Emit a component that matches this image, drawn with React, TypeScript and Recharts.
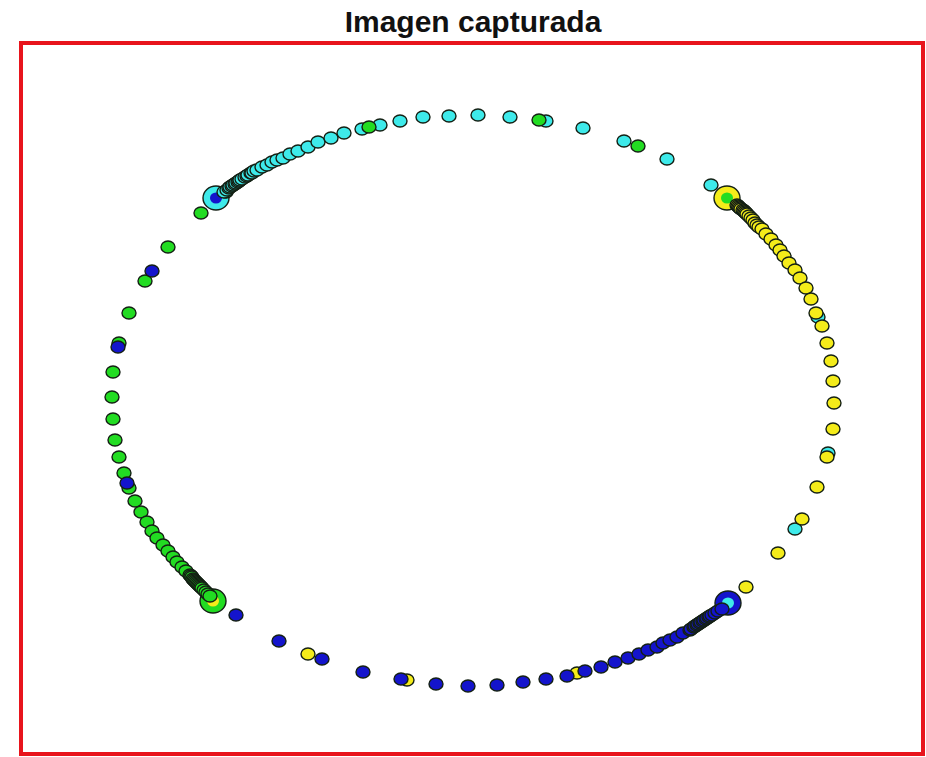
import React from "react";
import { ScatterChart, Scatter, XAxis, YAxis, ReferenceArea } from "recharts";

// values read in picture units (x right, y down)
const cyanPoints = [
  { x: 226, y: 192 }, { x: 224, y: 192 }, { x: 227, y: 190 }, { x: 229, y: 188 }, { x: 230, y: 187 },
  { x: 232, y: 186 }, { x: 233, y: 185 }, { x: 235, y: 184 }, { x: 236, y: 183 }, { x: 238, y: 182 },
  { x: 239, y: 181 }, { x: 240, y: 180 }, { x: 242, y: 179 }, { x: 245, y: 177 },
  { x: 247, y: 176 }, { x: 248, y: 175 }, { x: 251, y: 173 }, { x: 252, y: 173 }, { x: 254, y: 171 },
  { x: 257, y: 170 }, { x: 262, y: 167 }, { x: 267, y: 165 }, { x: 272, y: 162 }, { x: 277, y: 160 },
  { x: 283, y: 158 }, { x: 290, y: 154 }, { x: 298, y: 151 }, { x: 308, y: 147 }, { x: 318, y: 142 },
  { x: 331, y: 138 }, { x: 344, y: 133 }, { x: 362, y: 129 }, { x: 380, y: 125 }, { x: 400, y: 121 },
  { x: 423, y: 117 }, { x: 449, y: 116 }, { x: 478, y: 115 }, { x: 510, y: 117 }, { x: 546, y: 121 },
  { x: 583, y: 128 }, { x: 624, y: 141 }, { x: 667, y: 159 }, { x: 711, y: 185 }, { x: 818, y: 317 },
  { x: 828, y: 453 }, { x: 795, y: 529 },
];

const yellowPoints = [
  { x: 737, y: 205 }, { x: 738, y: 206 }, { x: 739, y: 207 }, { x: 740, y: 208 }, { x: 741, y: 209 },
  { x: 743, y: 210 }, { x: 744, y: 211 }, { x: 745, y: 212 }, { x: 746, y: 213 }, { x: 747, y: 214 },
  { x: 749, y: 216 }, { x: 751, y: 218 }, { x: 753, y: 220 }, { x: 755, y: 223 },
  { x: 757, y: 225 }, { x: 759, y: 227 }, { x: 762, y: 229 }, { x: 766, y: 234 }, { x: 771, y: 239 },
  { x: 776, y: 245 }, { x: 780, y: 250 }, { x: 784, y: 256 }, { x: 789, y: 263 }, { x: 795, y: 270 },
  { x: 800, y: 278 }, { x: 806, y: 288 }, { x: 811, y: 299 }, { x: 816, y: 313 }, { x: 822, y: 326 },
  { x: 827, y: 343 }, { x: 831, y: 361 }, { x: 833, y: 381 }, { x: 834, y: 403 }, { x: 833, y: 429 },
  { x: 827, y: 457 }, { x: 817, y: 487 }, { x: 802, y: 519 }, { x: 778, y: 553 }, { x: 746, y: 587 },
  { x: 308, y: 654 }, { x: 407, y: 680 }, { x: 577, y: 673 },
];

const greenPoints = [
  { x: 201, y: 213 }, { x: 369, y: 127 }, { x: 539, y: 120 }, { x: 638, y: 146 },
  { x: 168, y: 247 }, { x: 145, y: 281 }, { x: 129, y: 313 }, { x: 119, y: 343 }, { x: 113, y: 372 },
  { x: 112, y: 397 }, { x: 113, y: 419 }, { x: 115, y: 440 }, { x: 119, y: 457 }, { x: 124, y: 473 },
  { x: 129, y: 488 }, { x: 135, y: 501 }, { x: 141, y: 512 }, { x: 147, y: 522 }, { x: 152, y: 531 },
  { x: 157, y: 538 }, { x: 163, y: 545 }, { x: 168, y: 551 }, { x: 173, y: 557 }, { x: 177, y: 562 },
  { x: 182, y: 567 }, { x: 186, y: 571 }, { x: 190, y: 575 }, { x: 191, y: 576 }, { x: 192, y: 577 },
  { x: 193, y: 579 }, { x: 194, y: 580 }, { x: 195, y: 581 }, { x: 196, y: 582 }, { x: 197, y: 583 },
  { x: 198, y: 584 }, { x: 199, y: 585 }, { x: 200, y: 586 }, { x: 201, y: 587 }, { x: 202, y: 588 },
  { x: 204, y: 590 }, { x: 206, y: 592 }, { x: 208, y: 594 }, { x: 210, y: 596 },
];

const bluePoints = [
  { x: 152, y: 271 }, { x: 118, y: 347 }, { x: 127, y: 483 },
  { x: 236, y: 615 }, { x: 279, y: 641 }, { x: 322, y: 659 }, { x: 363, y: 672 }, { x: 401, y: 679 },
  { x: 436, y: 684 }, { x: 468, y: 686 }, { x: 497, y: 685 }, { x: 523, y: 682 }, { x: 546, y: 679 },
  { x: 567, y: 676 }, { x: 585, y: 671 }, { x: 601, y: 667 }, { x: 615, y: 662 }, { x: 628, y: 658 },
  { x: 639, y: 654 }, { x: 648, y: 650 }, { x: 657, y: 647 }, { x: 663, y: 643 }, { x: 670, y: 640 },
  { x: 677, y: 637 }, { x: 683, y: 633 }, { x: 690, y: 630 }, { x: 691, y: 629 }, { x: 694, y: 627 },
  { x: 695, y: 626 }, { x: 697, y: 625 }, { x: 698, y: 624 }, { x: 700, y: 623 }, { x: 701, y: 622 },
  { x: 703, y: 621 }, { x: 704, y: 620 }, { x: 706, y: 619 }, { x: 707, y: 618 }, { x: 709, y: 617 },
  { x: 710, y: 616 }, { x: 712, y: 615 }, { x: 715, y: 613 }, { x: 718, y: 611 }, { x: 722, y: 609 },
];

// cluster centres: ring colour + inner dot colour
const centers = [
  { x: 216, y: 198, ring: "cyan", dot: "blue" },
  { x: 727, y: 198, ring: "yellow", dot: "green" },
  { x: 213, y: 601, ring: "green", dot: "yellow" },
  { x: 728, y: 603, ring: "blue", dot: "cyan" },
];

const COLORS: Record<string, string> = {
  cyan: "#3eeaea",
  yellow: "#f4ec1a",
  green: "#22dc22",
  blue: "#1414cc",
};

const STROKE = "#142014";

function Dot(props: any) {
  const { cx, cy, fill } = props;
  if (cx == null || cy == null) return null;
  return <ellipse cx={cx} cy={cy} rx={7} ry={6} fill={fill} stroke={STROKE} strokeWidth={1.4} />;
}

function CenterMark(props: any) {
  const { cx, cy, payload } = props;
  if (cx == null || cy == null) return null;
  return (
    <g>
      <ellipse cx={cx} cy={cy} rx={13} ry={12} fill={COLORS[payload.ring]} stroke={STROKE} strokeWidth={1.4} />
      <ellipse cx={cx} cy={cy} rx={6} ry={5.5} fill={COLORS[payload.dot]} stroke="none" />
    </g>
  );
}

export default function App() {
  return (
    <div style={{ position: "absolute", left: 0, top: 0, width: 926, height: 757, background: "#fff" }}>
      <div
        style={{
          position: "absolute",
          left: 0,
          top: 4,
          width: 946,
          textAlign: "center",
          fontFamily: "'Liberation Sans', Arial, sans-serif",
          fontWeight: 700,
          fontSize: 30,
          lineHeight: "36px",
          color: "#111",
        }}
      >
        Imagen capturada
      </div>
      <ScatterChart width={926} height={757} margin={{ top: 0, right: 0, bottom: 0, left: 0 }}>
        <XAxis type="number" dataKey="x" domain={[0, 926]} hide />
        <YAxis type="number" dataKey="y" domain={[0, 757]} reversed hide />
        <ReferenceArea x1={21} x2={923} y1={43} y2={754} fill="none" stroke="#e8141c" strokeWidth={4} fillOpacity={0} />
        <Scatter data={centers} shape={CenterMark} isAnimationActive={false} />
        <Scatter data={cyanPoints} fill={COLORS.cyan} shape={Dot} isAnimationActive={false} />
        <Scatter data={yellowPoints} fill={COLORS.yellow} shape={Dot} isAnimationActive={false} />
        <Scatter data={greenPoints} fill={COLORS.green} shape={Dot} isAnimationActive={false} />
        <Scatter data={bluePoints} fill={COLORS.blue} shape={Dot} isAnimationActive={false} />
      </ScatterChart>
    </div>
  );
}
